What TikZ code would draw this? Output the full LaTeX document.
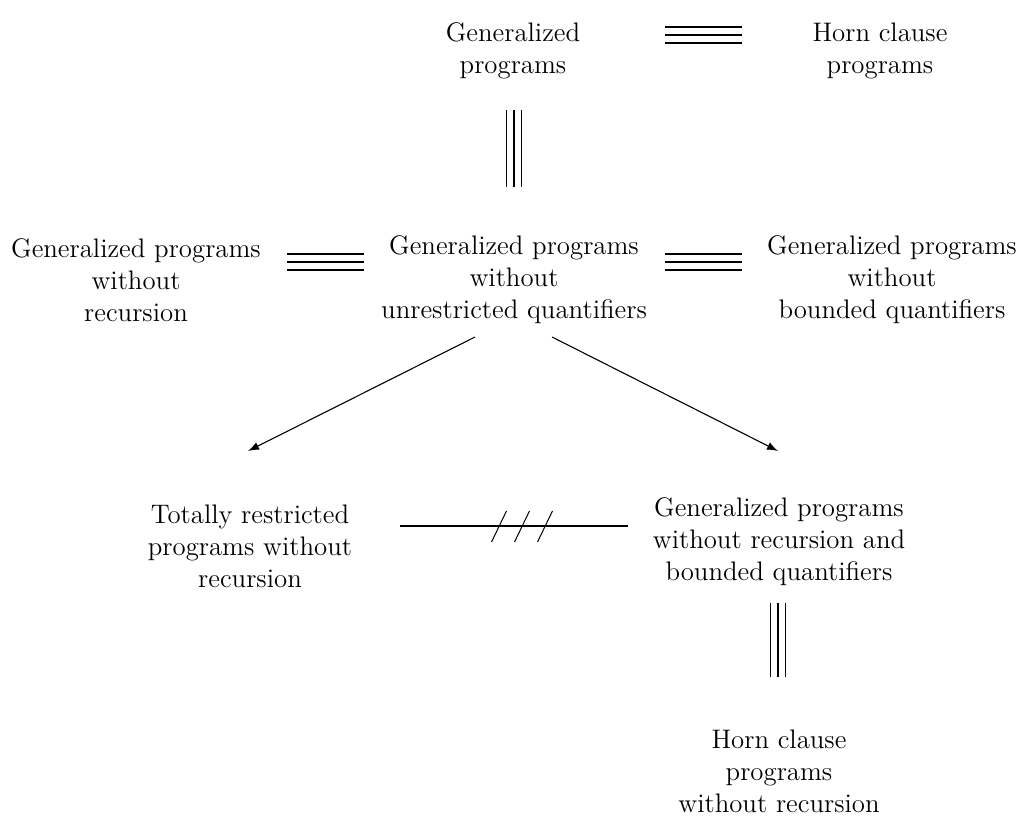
\documentclass[tikz,border=0pt]{standalone}
\usetikzlibrary{arrows.meta}
\begin{document}
\begin{tikzpicture}[x=0.5pt,y=-0.5pt,
  lbl/.style={align=center,inner sep=0pt,font=\fontsize{13.4}{16}\selectfont},
  tri/.style={line width=0.85pt},
  thin/.style={line width=0.5pt},
  arr/.style={line width=0.55pt,-{Latex[length=5.5pt,width=4pt]}}]
\useasboundingbox (0,0) rectangle (1024,817);
\node[lbl] (gp) at (513,51) {Generalized\\programs};
\node[lbl] (hc) at (880,51) {Horn clause\\programs};
\node[lbl] (gpr) at (136,280) {Generalized programs\\without\\recursion};
\node[lbl] (gpu) at (514,280) {Generalized programs\\without\\unrestricted quantifiers};
\node[lbl] (gpb) at (892,280) {Generalized programs\\without\\bounded quantifiers};
\node[lbl] (tr) at (250,546) {Totally restricted\\programs without\\recursion};
\node[lbl] (gprb) at (779,542) {Generalized programs\\without recursion and\\bounded quantifiers};
\node[lbl] (hcr) at (779,771) {Horn clause\\programs\\without recursion};
% top horizontal triple
\coordinate (t1a) at (665,35); \coordinate (t1b) at (742,35);
\foreach \d in {-8,0,8} \draw[tri] ([yshift=\d*0.5pt]t1a) -- ([yshift=\d*0.5pt]t1b);
% top vertical triple
\coordinate (v1a) at (514,110); \coordinate (v1b) at (514,187);
\foreach \d in {-7.5,0,7.5} \draw[tri] ([xshift=\d*0.5pt]v1a) -- ([xshift=\d*0.5pt]v1b);
% middle left triple
\coordinate (m1a) at (287,262); \coordinate (m1b) at (364,262);
\foreach \d in {-8,0,8} \draw[tri] ([yshift=\d*0.5pt]m1a) -- ([yshift=\d*0.5pt]m1b);
% middle right triple
\coordinate (m2a) at (665,262); \coordinate (m2b) at (742,262);
\foreach \d in {-8,0,8} \draw[tri] ([yshift=\d*0.5pt]m2a) -- ([yshift=\d*0.5pt]m2b);
% arrows
\coordinate (a1s) at (475,337); \coordinate (a1e) at (248,451);
\coordinate (a2s) at (552,337); \coordinate (a2e) at (778,451);
\draw[arr] (a1s) -- (a1e);
\draw[arr] (a2s) -- (a2e);
% slashed line
\coordinate (sa) at (400,526); \coordinate (sb) at (628,526);
\draw[tri] (sa) -- (sb);
\foreach \x in {499,522,545}
  \draw[thin] (\x-7.5,542) -- (\x+7.5,511);
% bottom vertical triple
\coordinate (v2a) at (778,603); \coordinate (v2b) at (778,677);
\foreach \d in {-7.5,0,7.5} \draw[tri] ([xshift=\d*0.5pt]v2a) -- ([xshift=\d*0.5pt]v2b);
\end{tikzpicture}
\end{document}
